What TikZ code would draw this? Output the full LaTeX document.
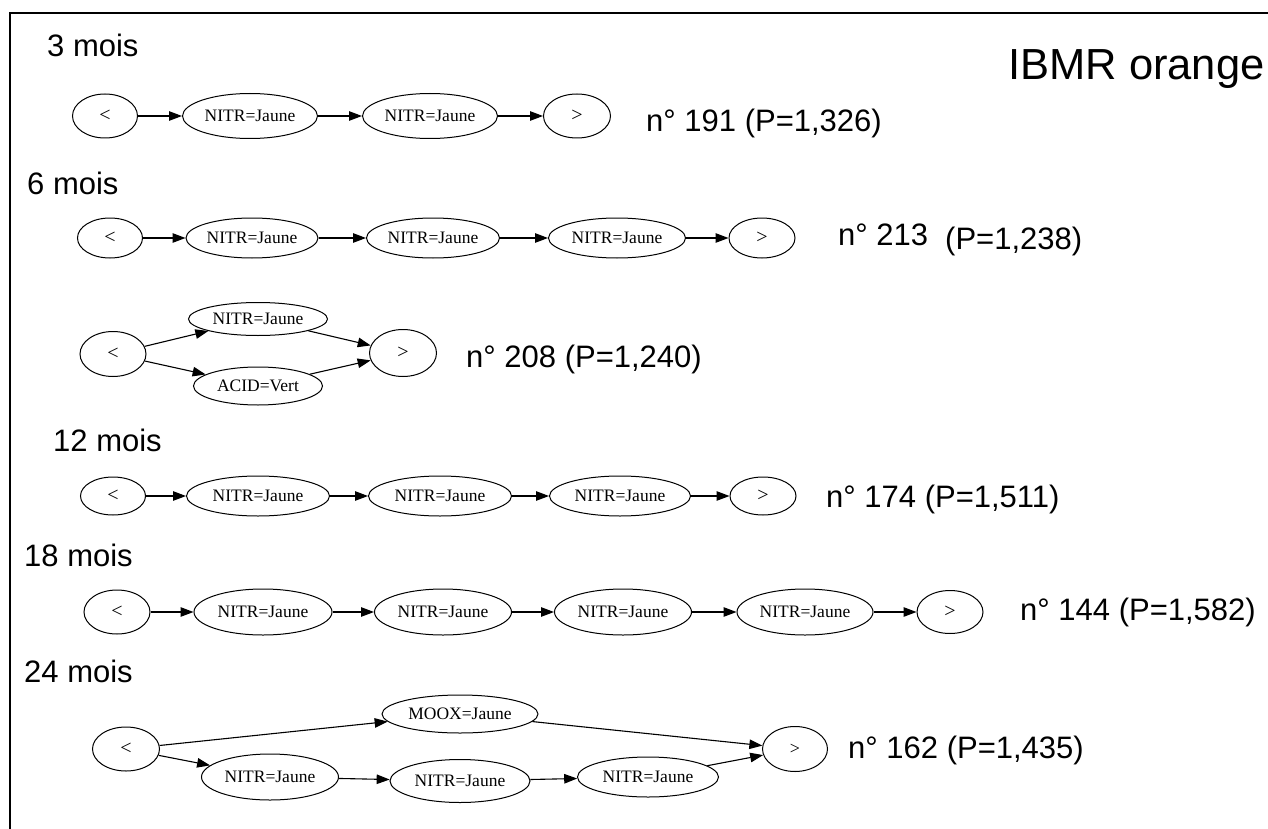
\documentclass[tikz,border=0pt]{standalone}
\usepackage{fontspec}
\setmainfont{Liberation Serif}
\newfontfamily\arialf{Liberation Sans}
\usetikzlibrary{shapes.geometric,arrows.meta}
\begin{document}
\begin{tikzpicture}[x=1pt,y=-1pt,
  nd/.style 2 args={ellipse,draw,line width=1pt,minimum width=#1,minimum height=#2,inner sep=0pt,font=\fontsize{17.5}{17.5}\selectfont},
  sym/.style={font=\fontsize{20}{20}\selectfont},
  ar/.style={-{Triangle[length=13pt,width=9.5pt]},line width=1.1pt},
  big/.style={font=\arialf\fontsize{31}{31}\selectfont,anchor=base west,inner sep=0pt},
  title/.style={font=\arialf\fontsize{43.5}{43.5}\selectfont,anchor=base west,inner sep=0pt},
  frame/.style={line width=2.5pt}]
\useasboundingbox (0,0) rectangle (1268,829);
\coordinate (fb) at (10,829);
\coordinate (fc) at (10,13);
\coordinate (fr) at (1268,13);
\draw[frame] (fb) -- (fc) -- (fr);

\node[title] (t) at (1008,80) {IBMR orange};

% row 1
\node[big] (l1) at (47,57) {3 mois};
\node[nd={65pt}{44pt},sym] (a1) at (105,116) {<};
\node[nd={135pt}{45pt}] (a2) at (250,116) {NITR=Jaune};
\node[nd={135pt}{45pt}] (a3) at (430,116) {NITR=Jaune};
\node[nd={67pt}{44pt},sym] (a4) at (577,116) {>};
\draw[ar] (a1) -- (a2);
\draw[ar] (a2) -- (a3);
\draw[ar] (a3) -- (a4);
\node[big] (n1) at (646,132) {n° 191 (P=1,326)};

% row 2
\node[big] (l2) at (27,195) {6 mois};
\node[nd={65pt}{40pt},sym] (b1) at (110,238) {<};
\node[nd={132pt}{40pt}] (b2) at (252,238) {NITR=Jaune};
\node[nd={133pt}{40pt}] (b3) at (433,238) {NITR=Jaune};
\node[nd={137pt}{40pt}] (b4) at (617,238) {NITR=Jaune};
\node[nd={66pt}{40pt},sym] (b5) at (762,238) {>};
\draw[ar] (b1) -- (b2);
\draw[ar] (b2) -- (b3);
\draw[ar] (b3) -- (b4);
\draw[ar] (b4) -- (b5);
\node[big] (n2a) at (838,245) {n° 213};
\node[big] (n2b) at (945,249) {(P=1,238)};

% row 3
\node[nd={66pt}{45pt},sym] (c1) at (113,354) {<};
\node[nd={139pt}{33pt}] (c2) at (258,319) {NITR=Jaune};
\node[nd={129pt}{38pt}] (c3) at (258,386) {ACID=Vert};
\node[nd={67pt}{47pt},sym] (c4) at (403,353) {>};
\draw[ar] (c1) -- (c2);
\draw[ar] (c1) -- (c3);
\draw[ar] (c2) -- (c4);
\draw[ar] (c3) -- (c4);
\node[big] (n3) at (466,367) {n° 208 (P=1,240)};

% row 4
\node[big] (l4) at (53,451) {12 mois};
\node[nd={65pt}{38pt},sym] (d1) at (113,496) {<};
\node[nd={143pt}{40pt}] (d2) at (258,496) {NITR=Jaune};
\node[nd={143pt}{40pt}] (d3) at (440,496) {NITR=Jaune};
\node[nd={141pt}{40pt}] (d4) at (620,496) {NITR=Jaune};
\node[nd={66pt}{38pt},sym] (d5) at (763,496) {>};
\draw[ar] (d1) -- (d2);
\draw[ar] (d2) -- (d3);
\draw[ar] (d3) -- (d4);
\draw[ar] (d4) -- (d5);
\node[big] (n4) at (826,507) {n° 174 (P=1,511)};

% row 5
\node[big] (l5) at (24,566) {18 mois};
\node[nd={66pt}{44pt},sym] (e1) at (117,612) {<};
\node[nd={138pt}{46pt}] (e2) at (263,612) {NITR=Jaune};
\node[nd={137pt}{46pt}] (e3) at (443,612) {NITR=Jaune};
\node[nd={137pt}{46pt}] (e4) at (623,612) {NITR=Jaune};
\node[nd={136pt}{46pt}] (e5) at (805,612) {NITR=Jaune};
\node[nd={66pt}{43pt},sym] (e6) at (950,612) {>};
\draw[ar] (e1) -- (e2);
\draw[ar] (e2) -- (e3);
\draw[ar] (e3) -- (e4);
\draw[ar] (e4) -- (e5);
\draw[ar] (e5) -- (e6);
\node[big] (n5) at (1020,620) {n° 144 (P=1,582)};

% row 6
\node[big] (l6) at (24,682) {24 mois};
\node[nd={67pt}{44pt},sym] (f1) at (126,749) {<};
\node[nd={156pt}{38pt}] (f2) at (460,714) {MOOX=Jaune};
\node[nd={137pt}{46pt}] (f3) at (270,777) {NITR=Jaune};
\node[nd={140pt}{43pt}] (f4) at (460,781) {NITR=Jaune};
\node[nd={141pt}{40pt}] (f5) at (648,777) {NITR=Jaune};
\node[nd={65pt}{45pt},font=\fontsize{18}{18}\selectfont] (f6) at (795,749) {>};
\draw[ar] (f1) -- (f2);
\draw[ar] (f1) -- (f3);
\draw[ar] (f3) -- (f4);
\draw[ar] (f4) -- (f5);
\draw[ar] (f5) -- (f6);
\draw[ar] (f2) -- (f6);
\node[big] (n6) at (848,758) {n° 162 (P=1,435)};
\end{tikzpicture}
\end{document}
